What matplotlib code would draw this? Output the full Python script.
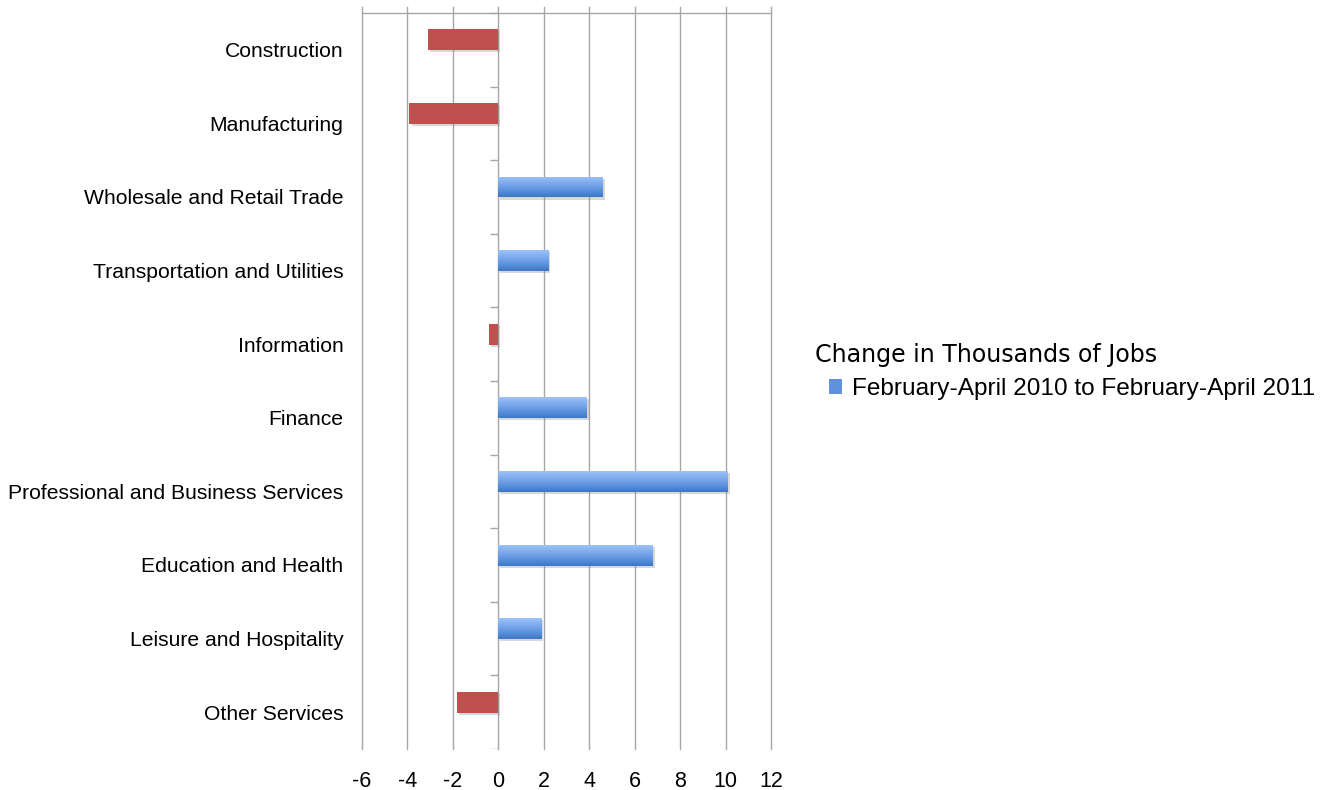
import matplotlib
matplotlib.use("Agg")
import matplotlib.pyplot as plt
import matplotlib.patheffects as pe
from matplotlib.colors import LinearSegmentedColormap
from matplotlib.patches import Patch
import numpy as np

categories = ["Construction", "Manufacturing", "Wholesale and Retail Trade",
              "Transportation and Utilities", "Information", "Finance",
              "Professional and Business Services", "Education and Health",
              "Leisure and Hospitality", "Other Services"]
changes = [-3.1, -3.9, 4.6, 2.2, -0.4, 3.9, 10.1, 6.8, 1.9, -1.8]
x_ticks = [-6, -4, -2, 0, 2, 4, 6, 8, 10, 12]
legend_title = "Change in Thousands of Jobs"
series_name = "February-April 2010 to February-April 2011"

plt.rcParams['font.family'] = ['Liberation Sans', 'DejaVu Sans']

red = '#C0504D'
blue_cmap = LinearSegmentedColormap.from_list('blu', ['#9CC2F8', '#6E9FE6', '#3B78C8'])
grid_col = '#A6A6A6'

fig = plt.figure(figsize=(13.37, 7.9), dpi=100)
ax = fig.add_axes([0.2705, 0.0519, 0.3062, 0.9392])

ypos = np.arange(len(categories))
bar_y = ypos - 0.135
bar_h = 0.285
shadow = [pe.SimplePatchShadow(offset=(1.5, -1.5), shadow_rgbFace='#808080', alpha=0.3), pe.Normal()]

grad = np.linspace(0, 1, 64).reshape(-1, 1)
for yy, v in zip(bar_y, changes):
    if v < 0:
        b = ax.barh(yy, v, height=bar_h, color=red, zorder=3)
        b[0].set_path_effects(shadow)
    else:
        b = ax.barh(yy, v, height=bar_h, color='#5F93DC', zorder=3)
        b[0].set_path_effects(shadow)
        im = ax.imshow(grad, cmap=blue_cmap, aspect='auto', origin='upper',
                       extent=[0, v, yy + bar_h / 2, yy - bar_h / 2], zorder=3.5)
        im.set_clip_path(b[0])

# vertical grid lines
for t in x_ticks:
    ax.axvline(t, color=grid_col, lw=1.0, zorder=1, clip_on=False)
# top line
ax.hlines(-0.5, x_ticks[0], x_ticks[-1], color=grid_col, lw=1.0, zorder=1)
# category tick marks on the zero axis
bounds = np.arange(len(categories) + 1) - 0.5
ax.hlines(bounds, -0.35, 0, color=grid_col, lw=1.0, zorder=2)

ax.set_xlim(x_ticks[0], x_ticks[-1])
ax.set_ylim(len(categories) - 0.5, -0.58)
ax.set_xticks(x_ticks)
ax.set_xticklabels([str(t) for t in x_ticks], fontsize=15.5)
ax.set_yticks(ypos)
ax.set_yticklabels(categories, fontsize=15.2)
ax.tick_params(axis='x', length=0, pad=16)
ax.tick_params(axis='y', length=0, pad=13)
for s in ax.spines.values():
    s.set_visible(False)

fig.text(0.6096, 1 - 355 / 790, legend_title, fontsize=17.15, family='DejaVu Sans',
         ha='left', va='center')
handle = Patch(facecolor='#5F93DC', edgecolor='none')
leg = fig.legend([handle], [series_name], loc='center left',
                 bbox_to_anchor=(0.620, 1 - 389 / 790), frameon=False, fontsize=17.6,
                 handlelength=0.53, handleheight=0.53, handletextpad=0.41,
                 borderpad=0, borderaxespad=0)

fig.savefig("out.png", dpi=100)
